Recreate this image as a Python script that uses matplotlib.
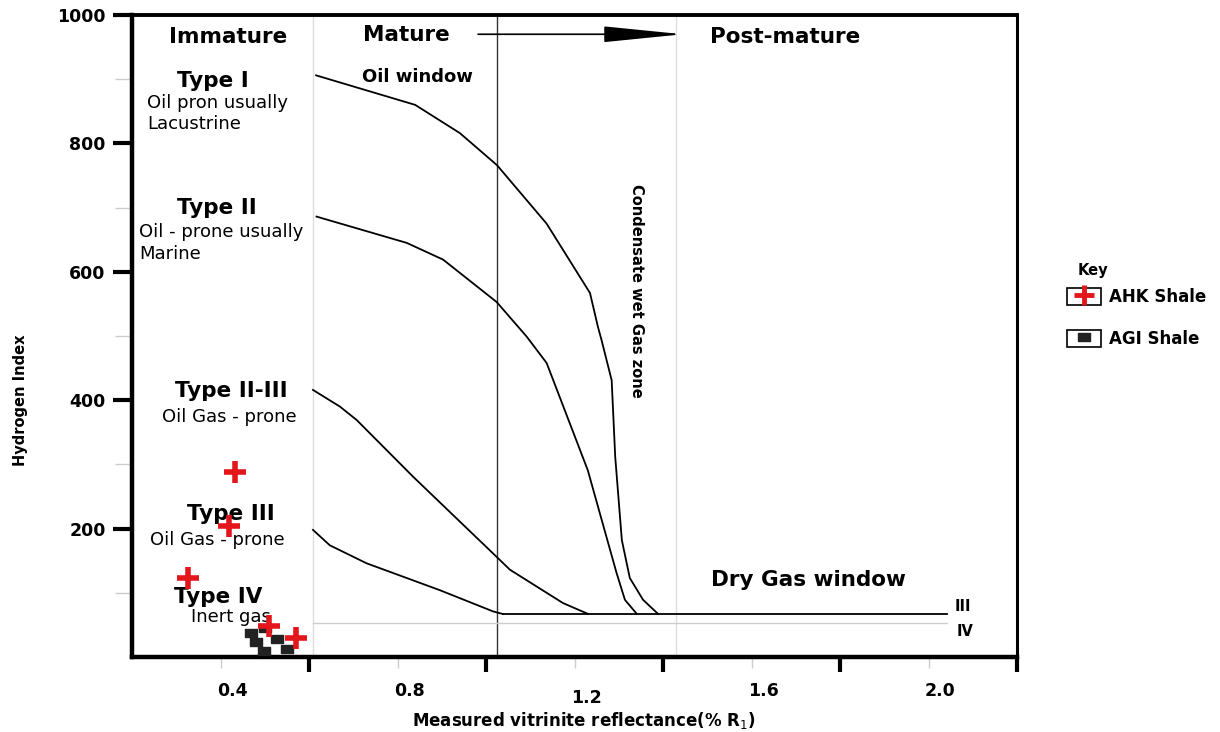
import matplotlib
matplotlib.use('Agg')
import matplotlib.pyplot as plt
import matplotlib.transforms as mtransforms
from matplotlib.lines import Line2D
from matplotlib.patches import Rectangle
from matplotlib.legend_handler import HandlerTuple
import numpy as np

plt.rcParams['font.family'] = ['DejaVu Sans']

# kerogen maturation curves (vitrinite reflectance %Ro, hydrogen index)
type1_x = [0.616, 0.840, 0.941, 1.025, 1.137, 1.235, 1.253, 1.261, 1.284, 1.292, 1.307, 1.325, 1.355, 1.389]
type1_y = [906, 860, 816, 766, 675, 567, 514, 494, 431, 312, 182, 123, 89, 67]

type2_x = [0.617, 0.821, 0.903, 1.024, 1.092, 1.137, 1.230, 1.295, 1.314, 1.341]
type2_y = [686, 645, 619, 553, 499, 458, 291, 131, 89, 67]

type23_x = [0.609, 0.670, 0.708, 0.835, 1.027, 1.054, 1.174, 1.231]
type23_y = [416, 390, 369, 281, 154, 136, 84, 67]

type34_x = [0.609, 0.647, 0.730, 0.896, 1.016, 1.038]
type34_y = [198, 174, 146, 104, 71, 67]

# dry gas baselines
line3_x = [1.038, 2.042]
line3_y = [67, 67]
line4_x = [0.609, 2.042]
line4_y = [53, 53]

# samples
ahk_ro = [0.433, 0.419, 0.327, 0.510, 0.571]
ahk_hi = [288, 204, 123, 48, 30]
agi_ro = [0.468, 0.480, 0.527, 0.499, 0.550, 0.501]
agi_hi = [38, 23, 28, 9, 12, 45]

x_labels = ['0.4', '0.8', '1.2', '1.6', '2.0']
x_label_pos = [0.4, 0.8, 1.2, 1.6, 2.0]
x_major = [0.6, 1.0, 1.4, 1.8, 2.2]
y_major = [200, 400, 600, 800, 1000]
y_minor = [100, 300, 500, 700, 900]

fig = plt.figure(figsize=(12.2, 7.32), dpi=100)
ax = fig.add_axes([132/1220, 75/732, 885/1220, 642/732])
ax.set_xlim(0.2, 2.2)
ax.set_ylim(0, 1000)

# zone boundaries
ax.axvline(0.61, color='#dddddd', lw=1.0, zorder=1)
ax.axvline(1.43, color='#dddddd', lw=1.0, zorder=1)
ax.axvline(1.025, color='#333333', lw=1.0, zorder=1)

for xs, ys in [(type1_x, type1_y), (type2_x, type2_y), (type23_x, type23_y), (type34_x, type34_y)]:
    ax.plot(xs, ys, color='black', lw=1.3, zorder=2)
ax.plot(line3_x, line3_y, color='black', lw=1.3, zorder=2)
ax.plot(line4_x, line4_y, color='#cccccc', lw=1.0, zorder=1)

rect_marker = [(-1, -0.7), (1, -0.7), (1, 0.7), (-1, 0.7), (-1, -0.7)]
ax.plot(agi_ro, agi_hi, ls='none', marker=rect_marker, ms=8, color='#222222', zorder=3)
ax.plot(ahk_ro, ahk_hi, ls='none', marker='+', ms=16, mew=4, color='#e3161b', zorder=4)

# axes styling
for side, w in [('left', 3.2), ('bottom', 3.2), ('top', 2.8), ('right', 2.2)]:
    ax.spines[side].set_linewidth(w)

ax.set_xticks(x_major)
ax.set_xticklabels([])
ax.set_xticks(x_label_pos, minor=True)
ax.set_xticklabels(x_labels, minor=True, fontsize=12.5, fontweight='bold')
ax.tick_params(axis='x', which='major', length=11, width=3, direction='out')
ax.tick_params(axis='x', which='minor', length=8, width=1, color='#cccccc', pad=10)
ax.xaxis.get_minor_ticks()[2].set_pad(15)
shift = mtransforms.ScaledTranslation(12/100, 0, fig.dpi_scale_trans)
for lab in ax.get_xticklabels(minor=True):
    lab.set_transform(lab.get_transform() + shift)

ax.set_yticks(y_major)
ax.set_yticklabels([str(v) for v in y_major], fontsize=12.5, fontweight='bold')
ax.set_yticks(y_minor, minor=True)
ax.tick_params(axis='y', which='major', length=14, width=3, pad=5)
ax.tick_params(axis='y', which='minor', length=12, width=1, color='#cccccc')

ax.set_xlabel('Measured vitrinite reflectance(% R$_1$)', fontsize=12, fontweight='bold')
ax.xaxis.set_label_coords(0.51, -0.083)
ax.set_ylabel('Hydrogen Index', fontsize=10.5, fontweight='bold')
ax.yaxis.set_label_coords(-0.118, 0.40)

# maturity zones
hb = dict(fontsize=15.5, fontweight='bold', va='center')
ax.text(0.417, 966, 'Immature', ha='center', **hb)
ax.text(0.821, 969, 'Mature', ha='center', **hb)
ax.text(1.676, 966, 'Post-mature', ha='center', **hb)
ax.annotate('', xy=(1.445, 970), xytext=(0.982, 970),
            arrowprops=dict(arrowstyle='-|>,head_length=2.5,head_width=0.25',
                            mutation_scale=20, color='black', lw=1.2,
                            shrinkA=0, shrinkB=0))
ax.text(0.846, 903, 'Oil window', ha='center', va='center', fontsize=13, fontweight='bold')
ax.text(1.339, 570, 'Condensate wet Gas zone', ha='center', va='center',
        rotation=270, fontsize=10.5, fontweight='bold')
ax.text(1.728, 120, 'Dry Gas window', ha='center', **hb)
ax.text(2.06, 79, 'III', ha='left', va='center', fontsize=10.5, fontweight='bold')
ax.text(2.064, 39, 'IV', ha='left', va='center', fontsize=10.5, fontweight='bold')

# kerogen types
tb = dict(fontsize=15.5, fontweight='bold', ha='center', va='center')
tn = dict(fontsize=13, ha='left', va='center')
ax.text(0.383, 897, 'Type I', **tb)
ax.text(0.234, 863, 'Oil pron usually', **tn)
ax.text(0.234, 830, 'Lacustrine', **tn)
ax.text(0.392, 699, 'Type II', **tb)
ax.text(0.216, 662, 'Oil - prone usually', **tn)
ax.text(0.216, 628, 'Marine', **tn)
ax.text(0.424, 414, 'Type II-III', **tb)
ax.text(0.268, 374, 'Oil Gas - prone', **tn)
ax.text(0.424, 223, 'Type III', **tb)
ax.text(0.241, 182, 'Oil Gas - prone', **tn)
ax.text(0.394, 93, 'Type IV', **tb)
ax.text(0.333, 62, 'Inert gas', **tn)

# key
fig.text(1078/1220, 1 - 270/732, 'Key', ha='left', va='center', fontsize=10.5, fontweight='bold')
box1 = Rectangle((0, 0), 1, 1, facecolor='white', edgecolor='black', lw=1.2)
box2 = Rectangle((0, 0), 1, 1, facecolor='white', edgecolor='black', lw=1.2)
h_ahk = Line2D([], [], ls='none', marker='+', ms=14, mew=3.5, color='#e3161b')
h_agi = Line2D([], [], ls='none', marker=rect_marker, ms=8, color='#222222')
leg = fig.legend([(box1, h_ahk), (box2, h_agi)], ['AHK Shale', 'AGI Shale'],
                 handler_map={tuple: HandlerTuple(ndivide=1)},
                 loc='upper left', bbox_to_anchor=(1059/1220, 1 - 280/732),
                 frameon=False, borderpad=0, handlelength=2.0, handleheight=1.2,
                 handletextpad=0.5, labelspacing=1.4,
                 prop=dict(size=12, weight='bold'))

fig.savefig('out.png', dpi=100)
